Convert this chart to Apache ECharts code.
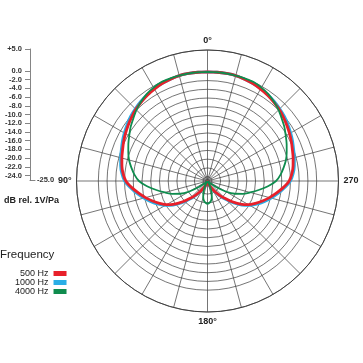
<!DOCTYPE html>
<html><head><meta charset="utf-8">
<script src="https://cdn.jsdelivr.net/npm/echarts@6/dist/echarts.min.js"></script>
<style>html,body{margin:0;padding:0;background:#fff}#c{width:363px;height:363px}</style>
</head><body><div id="c"></div>
<script>
// Angles (degrees) at which the response is read
const angles = [0,5,10,15,20,25,30,35,40,45,50,55,60,65,70,75,80,85,90,95,100,105,110,115,120,125,130,135,140,145,150,155,160,165,170,175,180,
                185,190,195,200,205,210,215,220,225,230,235,240,245,250,255,260,265,270,275,280,285,290,295,300,305,310,315,320,325,330,335,340,345,350,355,360];
// Response in dB rel. 1V/Pa
const red500 = [0,0,0,0,-0.2,-0.4,-0.7,-1.0,-1.4,-1.8,-2.3,-2.8,-3.3,-3.8,-4.3,-4.7,-5.1,-5.6,-6.3,-7.6,-9.0,-10.3,-11.6,-12.9,-14.2,-15.8,-17.6,-19.4,-20.8,-22.0,-23.0,-23.7,-24.2,-24.5,-24.7,-24.9,-25,
                -24.9,-24.7,-24.5,-24.2,-23.7,-23.0,-22.0,-20.8,-19.4,-17.6,-15.8,-14.2,-12.9,-11.6,-10.3,-9.0,-7.6,-6.3,-5.6,-5.1,-4.7,-4.3,-3.8,-3.3,-2.8,-2.3,-1.8,-1.4,-1.0,-0.7,-0.4,-0.2,0,0,0,0];
const blue1000 = [0,0,0,0,-0.2,-0.4,-0.6,-0.9,-1.2,-1.6,-2.0,-2.5,-3.0,-3.5,-4.0,-4.4,-4.8,-5.3,-6.0,-7.3,-8.6,-9.9,-11.2,-12.5,-13.8,-15.4,-17.2,-19.0,-20.5,-21.8,-22.8,-23.6,-24.2,-24.5,-24.7,-24.9,-25,
                  -24.9,-24.7,-24.5,-24.2,-23.6,-22.8,-21.8,-20.5,-19.0,-17.2,-15.4,-13.8,-12.5,-11.2,-9.9,-8.6,-7.3,-6.0,-5.3,-4.8,-4.4,-4.0,-3.5,-3.0,-2.5,-2.0,-1.6,-1.2,-0.9,-0.6,-0.4,-0.2,0,0,0,0];
const green4000 = [0,0,0,0,0,0,-0.3,-0.7,-1.3,-2.0,-2.8,-3.5,-4.3,-5.0,-5.7,-6.4,-7.3,-8.2,-9.3,-11.1,-13.1,-14.9,-16.4,-18.1,-20.2,-22.6,-24.2,-24.8,-25,-25,-24.6,-23.5,-22.3,-21.2,-20.4,-20.0,-19.8,
                   -20.0,-20.4,-21.2,-22.3,-23.5,-24.6,-25,-25,-24.8,-24.2,-22.6,-20.2,-18.1,-16.4,-14.9,-13.1,-11.1,-9.3,-8.2,-7.3,-6.4,-5.7,-5.0,-4.3,-3.5,-2.8,-2.0,-1.3,-0.7,-0.3,0,0,0,0,0,0];
const seriesNames = ['500 Hz','1000 Hz','4000 Hz'];
// Scale tick labels (dB)
const scaleTicks = [5,0,-2,-4,-6,-8,-10,-12,-14,-16,-18,-20,-22,-24];
const angleLabelText = {0:'0°', 90:'90°', 180:'180°', 270:'270'};

const RMIN = -25, RMAX = 5;
const gridColor = '#3a3a3a';
const ringColors = [];
for (let v = RMIN; v <= RMAX; v++) {
  ringColors.push(scaleTicks.indexOf(v) >= 0 ? gridColor : 'rgba(0,0,0,0)');
}
const pair = arr => arr.map((v, i) => [v, angles[i]]);

const chart = echarts.init(document.getElementById('c'), null, {renderer: 'canvas'});
const font = 'Liberation Sans';
chart.setOption({
  animation: false,
  backgroundColor: '#fff',
  textStyle: {fontFamily: font},
  polar: {center: [207.5, 181], radius: 131},
  angleAxis: {
    type: 'value', min: 0, max: 360, interval: 15,
    startAngle: 90, clockwise: false,
    axisLine: {show: true, lineStyle: {color: gridColor, width: 0.9}},
    axisTick: {show: false},
    splitLine: {show: true, lineStyle: {color: gridColor, width: 0.7}},
    axisLabel: {
      show: true, margin: 5, fontSize: 9, fontWeight: 'bold', color: '#222', fontFamily: font,
      formatter: v => angleLabelText[v] !== undefined && v !== 360 ? angleLabelText[v] : ''
    }
  },
  radiusAxis: {
    type: 'value', min: RMIN, max: RMAX, interval: 1,
    axisLine: {show: false}, axisTick: {show: false}, axisLabel: {show: false},
    splitLine: {show: true, lineStyle: {color: ringColors, width: 0.7}}
  },
  grid: {left: 30, top: 49, width: 5, height: 131},
  xAxis: {
    type: 'value', min: 0, max: 1,
    axisLine: {show: true, onZero: false, lineStyle: {color: '#666', width: 0.8}},
    axisTick: {show: false}, axisLabel: {show: false}, splitLine: {show: false},
    name: '-25.0', nameLocation: 'end', nameGap: 2,
    nameTextStyle: {fontSize: 7.5, color: '#333', fontWeight: 'bold', fontFamily: font}
  },
  yAxis: {
    type: 'value', min: RMIN, max: RMAX,
    axisLine: {show: true, onZero: false, lineStyle: {color: '#666', width: 0.8}},
    axisTick: {show: true, customValues: scaleTicks, length: 5, lineStyle: {color: '#666', width: 0.8}},
    axisLabel: {show: true, customValues: scaleTicks, margin: 8, fontSize: 7.5, fontWeight: 'bold', color: '#333',
      fontFamily: font,
      formatter: v => (v > 0 ? '+' : '') + Number(v).toFixed(1)},
    splitLine: {show: false}
  },
  legend: {
    data: seriesNames, orient: 'vertical', left: 10, top: 264, align: 'right',
    itemWidth: 13, itemHeight: 5, itemGap: 0, icon: 'rect',
    textStyle: {fontSize: 9, color: '#222', width: 36, align: 'right', fontFamily: font}
  },
  graphic: [
    {type: 'text', left: 4, top: 196, style: {text: 'dB rel. 1V/Pa', fontSize: 9, fontWeight: 'bold', fill: '#222', fontFamily: font}},
    {type: 'text', left: 0, top: 249, style: {text: 'Frequency', fontSize: 11.5, fill: '#222', fontFamily: font}}
  ],
  series: [
    {name: seriesNames[0], type: 'line', coordinateSystem: 'polar', data: pair(red500), symbol: 'none',
     smooth: 0.3, z: 3, color: '#e8202a', lineStyle: {width: 2.8, color: '#e8202a'}},
    {name: seriesNames[1], type: 'line', coordinateSystem: 'polar', data: pair(blue1000), symbol: 'none',
     smooth: 0.3, z: 2, color: '#2aaee6', lineStyle: {width: 2.8, color: '#2aaee6'}},
    {name: seriesNames[2], type: 'line', coordinateSystem: 'polar', data: pair(green4000), symbol: 'none',
     smooth: 0.3, z: 4, color: '#0f8c4e', lineStyle: {width: 1.8, color: '#0f8c4e'}}
  ]
});
</script></body></html>
